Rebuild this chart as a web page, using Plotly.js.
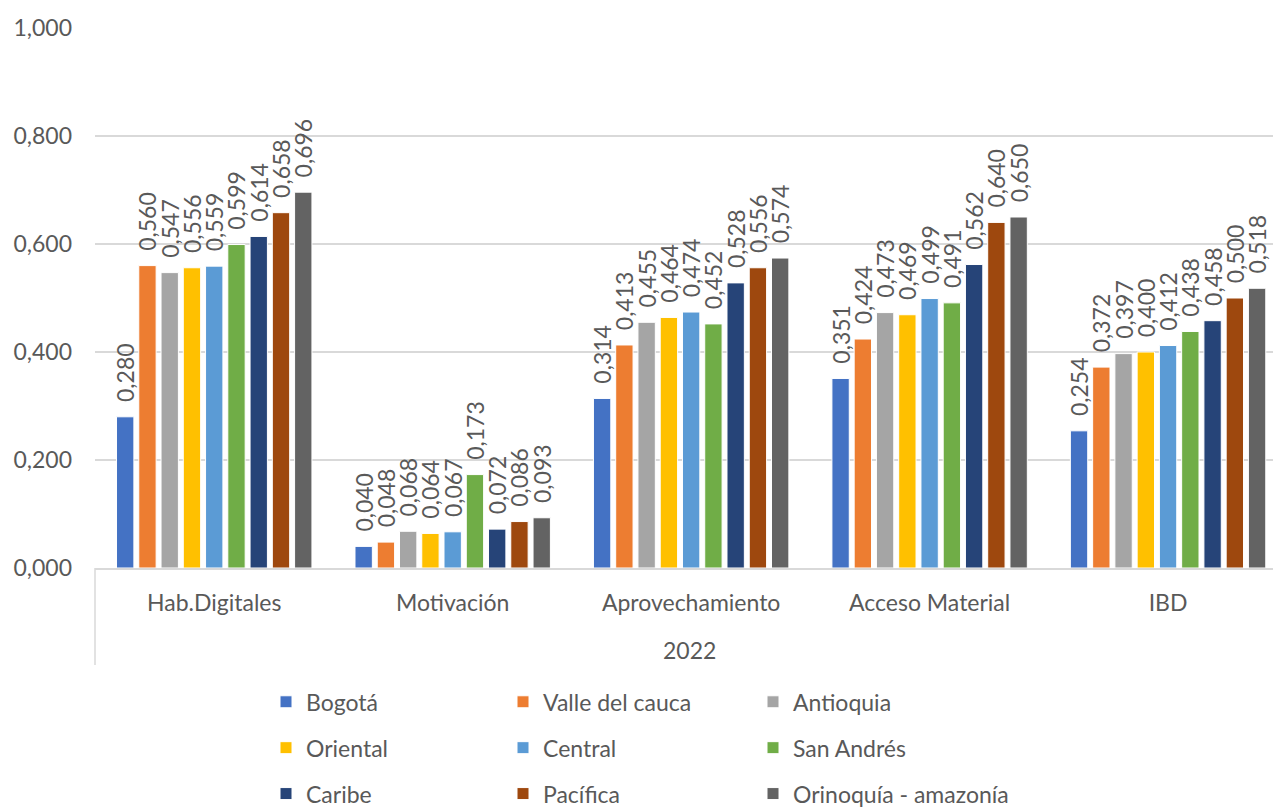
<!DOCTYPE html>
<html><head><meta charset="utf-8">
<script src="https://cdn.plot.ly/plotly-3.0.1.min.js"></script>
<style>html,body{margin:0;padding:0;background:#fff;}#chart{width:1273px;height:810px;}</style>
</head><body><div id="chart"></div>
<script>
const categories = ["Hab.Digitales", "Motivación", "Aprovechamiento", "Acceso Material", "IBD"];
const seriesNames = ["Bogotá", "Valle del cauca", "Antioquia", "Oriental", "Central", "San Andrés", "Caribe", "Pacífica", "Orinoquía - amazonía"];
const bogota     = [0.280, 0.040, 0.314, 0.351, 0.254];
const valle      = [0.560, 0.048, 0.413, 0.424, 0.372];
const antioquia  = [0.547, 0.068, 0.455, 0.473, 0.397];
const oriental   = [0.556, 0.064, 0.464, 0.469, 0.400];
const central    = [0.559, 0.067, 0.474, 0.499, 0.412];
const sanAndres  = [0.599, 0.173, 0.452, 0.491, 0.438];
const caribe     = [0.614, 0.072, 0.528, 0.562, 0.458];
const pacifica   = [0.658, 0.086, 0.556, 0.640, 0.500];
const orinoquia  = [0.696, 0.093, 0.574, 0.650, 0.518];
const yearLabel = "2022";
const yTicks = [0, 0.2, 0.4, 0.6, 0.8, 1.0];

const seriesValues = [bogota, valle, antioquia, oriental, central, sanAndres, caribe, pacifica, orinoquia];
const colors = ["#4472C4", "#ED7D31", "#A5A5A5", "#FFC000", "#5B9BD5", "#70AD47", "#264478", "#9E480E", "#636363"];
const legendIds = ["legend", "legend2", "legend3"];
const FONT = "Lato, 'Open Sans', sans-serif";
const fmt = v => v.toFixed(3).replace('.', ',');

const traces = seriesValues.map((vals, i) => ({
  type: 'bar',
  name: seriesNames[i],
  x: categories,
  y: vals,
  text: vals.map(v => '\u00A0\u00A0' + fmt(v)),
  textposition: 'outside',
  textangle: -90,
  constraintext: 'none',
  cliponaxis: false,
  textfont: {family: FONT, size: 23, color: '#595959'},
  marker: {color: colors[i], line: {color: '#ffffff', width: 1}},
  legend: legendIds[i % 3],
  legendgroup: 'g' + i,
  hoverinfo: 'x+y'
}));

const legendBase = {
  orientation: 'v', xanchor: 'left', yanchor: 'top', y: -0.208,
  font: {family: FONT, size: 23, color: '#595959'},
  tracegroupgap: 13, bgcolor: 'rgba(0,0,0,0)'
};
const plotW = 1273 - 95;
const px = p => (p - 95) / plotW;

const layout = {
  width: 1273, height: 810,
  margin: {l: 95, r: 0, t: 28, b: 242, autoexpand: false},
  paper_bgcolor: '#ffffff', plot_bgcolor: '#ffffff',
  font: {family: FONT, color: '#595959'},
  barmode: 'group', bargap: 0.16, bargroupgap: 0.22,
  showlegend: true,
  xaxis: {
    type: 'category', range: [-0.5, 4.44],
    showline: true, linecolor: '#D9D9D9', linewidth: 1.5,
    showgrid: false, zeroline: false, ticks: '',
    tickfont: {family: FONT, size: 23, color: '#595959'},
    ticklabelstandoff: 14
  },
  yaxis: {
    range: [0, 1], tickvals: yTicks, ticktext: yTicks.map(fmt),
    showgrid: true, gridcolor: '#D9D9D9', gridwidth: 1.5,
    zeroline: false, showline: false, ticks: '',
    tickfont: {family: FONT, size: 23, color: '#595959'},
    ticklabelstandoff: 22
  },
  legend: Object.assign({}, legendBase, {x: px(266)}),
  legend2: Object.assign({}, legendBase, {x: px(503)}),
  legend3: Object.assign({}, legendBase, {x: px(753)}),
  shapes: [
    {type: 'line', xref: 'paper', yref: 'paper', x0: 0, x1: 0, y0: 0, y1: -(665 - 568) / 540,
     line: {color: '#D9D9D9', width: 1.5}}
  ],
  annotations: [
    {xref: 'paper', yref: 'paper', x: px(689), y: -(650 - 568) / 540, text: yearLabel,
     showarrow: false, xanchor: 'center', yanchor: 'middle',
     font: {family: FONT, size: 23, color: '#595959'}}
  ]
};

Plotly.newPlot('chart', traces, layout, {displayModeBar: false, staticPlot: true});
</script>
</body></html>
